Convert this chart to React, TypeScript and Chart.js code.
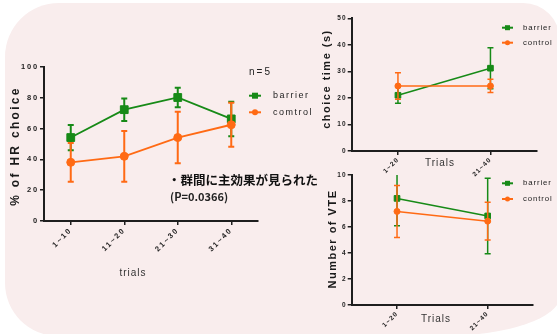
import React, { useEffect, useRef } from 'react';
import { Chart, registerables } from 'chart.js';

Chart.register(...registerables);

const GREEN = '#178a17';
const ORANGE = '#ff6a14';
const AXIS = '#1e1e1e';
const SANS = "'Liberation Sans', Arial, sans-serif";

// ---- data: main chart (% of HR choice)
const mainCategories = ['1~10', '11~20', '21~30', '31~40'];
const mainBarrier = [54.2, 72.3, 80.2, 66.3];
const mainBarrierErr = [8.2, 7.3, 6.4, 11.2];
const mainControl = [38.1, 42.0, 54.2, 62.5];
const mainControlErr = [12.6, 16.5, 16.7, 14.3];
const mainYMax = 100;
const mainYStep = 20;

// ---- data: choice time (s)
const timeCategories = ['1~20', '21~40'];
const timeBarrier = [21.0, 31.2];
const timeBarrierErr = [3.0, 7.7];
const timeControl = [24.5, 24.5];
const timeControlErr = [5.0, 2.5];
const timeYMax = 50;
const timeYStep = 10;

// ---- data: number of VTE
const vteCategories = ['1~20', '21~40'];
const vteBarrier = [8.2, 6.85];
const vteBarrierErr = [2.1, 2.9];
const vteControl = [7.2, 6.45];
const vteControlErr = [2.0, 1.45];
const vteYMax = 10;
const vteYStep = 2;

type TextSpec = { text: string; x: number; y: number; size: number; spacing: number; bold?: boolean; rotate?: boolean; color?: string; align?: CanvasTextAlign };
type Series = { label: string; values: number[]; errors: number[]; color: string; style: 'rect' | 'circle'; order: number };
type Spec = {
  x: number; y: number; w: number; h: number;
  area: { left: number; top: number; right: number; bottom: number };
  labels: string[];
  series: Series[];
  yMax: number; yStep: number;
  tickSize: number; tickSpacing: number;
  texts: TextSpec[];
  legend: { x0: number; x1: number; tx: number; ys: number[]; size: number; spacing: number; marker: number; lw: number };
  rectR: number; circleR: number; lineWidth: number; errWidth: number; capHalf: number;
};

function drawText(ctx: CanvasRenderingContext2D, t: TextSpec) {
  ctx.save();
  (ctx as any).letterSpacing = t.spacing + 'px';
  ctx.font = `${t.bold ? 'bold ' : ''}${t.size}px ${SANS}`;
  ctx.fillStyle = t.color || '#1a1a1a';
  ctx.textAlign = t.align || 'center';
  ctx.textBaseline = 'middle';
  ctx.translate(t.x, t.y);
  if (t.rotate) ctx.rotate(-Math.PI / 2);
  ctx.fillText(t.text, 0, 0);
  ctx.restore();
}

function drawMarker(ctx: CanvasRenderingContext2D, style: string, x: number, y: number, size: number, color: string) {
  ctx.fillStyle = color;
  if (style === 'rect') {
    ctx.fillRect(x - size / 2, y - size / 2, size, size);
  } else {
    ctx.beginPath();
    ctx.arc(x, y, size / 2, 0, Math.PI * 2);
    ctx.fill();
  }
}

function buildChart(canvas: HTMLCanvasElement, spec: Spec) {
  const { area, w, h } = spec;
  const tickFont = { family: SANS, size: spec.tickSize, weight: 'bold' as const };
  const errorBars = {
    id: 'errorBars',
    beforeDatasetDraw(chart: any, args: any) {
      const s = spec.series[args.index];
      const yS = chart.scales.y;
      const ctx: CanvasRenderingContext2D = chart.ctx;
      const a = chart.chartArea;
      ctx.save();
      ctx.beginPath();
      ctx.rect(a.left - 10, a.top, a.right - a.left + 20, a.bottom - a.top);
      ctx.clip();
      ctx.strokeStyle = s.color;
      ctx.lineWidth = spec.errWidth;
      args.meta.data.forEach((pt: any, i: number) => {
        const x = pt.x;
        const hi = yS.getPixelForValue(s.values[i] + s.errors[i]);
        const lo = yS.getPixelForValue(s.values[i] - s.errors[i]);
        ctx.beginPath();
        ctx.moveTo(x, hi); ctx.lineTo(x, lo);
        ctx.moveTo(x - spec.capHalf, hi); ctx.lineTo(x + spec.capHalf, hi);
        ctx.moveTo(x - spec.capHalf, lo); ctx.lineTo(x + spec.capHalf, lo);
        ctx.stroke();
      });
      ctx.restore();
    },
  };
  const decor = {
    id: 'decor',
    beforeDraw(chart: any) {
      (chart.ctx as any).letterSpacing = spec.tickSpacing + 'px';
    },
    afterDraw(chart: any) {
      const ctx: CanvasRenderingContext2D = chart.ctx;
      spec.texts.forEach((t) => drawText(ctx, t));
      const lg = spec.legend;
      spec.series.forEach((s, i) => {
        const y = lg.ys[i];
        ctx.save();
        ctx.strokeStyle = s.color;
        ctx.lineWidth = lg.lw;
        ctx.beginPath();
        ctx.moveTo(lg.x0, y); ctx.lineTo(lg.x1, y);
        ctx.stroke();
        drawMarker(ctx, s.style, (lg.x0 + lg.x1) / 2, y, lg.marker, s.color);
        ctx.restore();
        drawText(ctx, { text: s.label, x: lg.tx, y, size: lg.size, spacing: lg.spacing, align: 'left', color: '#222' });
      });
    },
  };
  return new Chart(canvas, {
    type: 'line',
    data: {
      labels: spec.labels,
      datasets: spec.series.map((s) => ({
        label: s.label,
        data: s.values,
        borderColor: s.color,
        backgroundColor: s.color,
        pointBackgroundColor: s.color,
        pointBorderColor: s.color,
        pointBorderWidth: 1,
        pointStyle: s.style,
        pointRadius: s.style === 'rect' ? spec.rectR : spec.circleR,
        borderWidth: spec.lineWidth,
        tension: 0,
        order: s.order,
      })),
    },
    options: {
      responsive: false,
      animation: false,
      devicePixelRatio: 1,
      events: [],
      layout: { padding: { left: 0, top: area.top, right: w - area.right, bottom: 0 } },
      plugins: { legend: { display: false }, tooltip: { enabled: false }, title: { display: false } },
      scales: {
        x: {
          type: 'category',
          offset: true,
          grid: { display: true, drawOnChartArea: false, drawTicks: true, tickLength: 4, color: AXIS, lineWidth: 1.5 },
          border: { display: true, color: AXIS, width: 2 },
          ticks: { font: tickFont, color: AXIS, minRotation: 45, maxRotation: 45, padding: 1, autoSkip: false },
          afterFit: (s: any) => { s.height = h - area.bottom; },
        },
        y: {
          min: 0,
          max: spec.yMax,
          grid: { display: true, drawOnChartArea: false, drawTicks: true, tickLength: 4, color: AXIS, lineWidth: 1.5 },
          border: { display: true, color: AXIS, width: 2 },
          ticks: { stepSize: spec.yStep, font: tickFont, color: AXIS, padding: 1 },
          afterFit: (s: any) => { s.width = area.left; },
        },
      },
    } as any,
    plugins: [errorBars, decor],
  });
}

const mainSpec: Spec = {
  x: 0, y: 0, w: 335, h: 300,
  area: { left: 44, top: 67, right: 258, bottom: 221 },
  labels: mainCategories,
  series: [
    { label: 'barrier', values: mainBarrier, errors: mainBarrierErr, color: GREEN, style: 'rect', order: 1 },
    { label: 'comtrol', values: mainControl, errors: mainControlErr, color: ORANGE, style: 'circle', order: 0 },
  ],
  yMax: mainYMax, yStep: mainYStep,
  tickSize: 7.5, tickSpacing: 1.8,
  texts: [
    { text: '% of HR choice', x: 16, y: 146, size: 12, spacing: 2.3, bold: true, rotate: true },
    { text: 'trials', x: 133, y: 273, size: 10, spacing: 1, color: '#333' },
    { text: 'n=5', x: 249, y: 72, size: 10, spacing: 2, align: 'left', color: '#222' },
  ],
  legend: { x0: 249, x1: 261, tx: 273, ys: [95.7, 112.3], size: 9, spacing: 1.5, marker: 6, lw: 2 },
  rectR: 5.5, circleR: 4, lineWidth: 1.8, errWidth: 2, capHalf: 3,
};

const timeSpec: Spec = {
  x: 300, y: 0, w: 257, h: 190,
  area: { left: 51.7, top: 18.3, right: 236.7, bottom: 151 },
  labels: timeCategories,
  series: [
    { label: 'barrier', values: timeBarrier, errors: timeBarrierErr, color: GREEN, style: 'rect', order: 1 },
    { label: 'control', values: timeControl, errors: timeControlErr, color: ORANGE, style: 'circle', order: 0 },
  ],
  yMax: timeYMax, yStep: timeYStep,
  tickSize: 6.5, tickSpacing: 1.1,
  texts: [
    { text: 'choice time (s)', x: 27, y: 79, size: 11, spacing: 1.5, bold: true, rotate: true },
    { text: 'Trials', x: 140, y: 163, size: 10, spacing: 1, color: '#333' },
  ],
  legend: { x0: 202, x1: 213, tx: 223, ys: [27.7, 42.7], size: 7.8, spacing: 0.9, marker: 5, lw: 2 },
  rectR: 4, circleR: 3, lineWidth: 1.5, errWidth: 1.5, capHalf: 3,
};

const vteSpec: Spec = {
  x: 300, y: 158, w: 257, h: 176,
  area: { left: 51.7, top: 17, right: 233, bottom: 147 },
  labels: vteCategories,
  series: [
    { label: 'barrier', values: vteBarrier, errors: vteBarrierErr, color: GREEN, style: 'rect', order: 1 },
    { label: 'control', values: vteControl, errors: vteControlErr, color: ORANGE, style: 'circle', order: 0 },
  ],
  yMax: vteYMax, yStep: vteYStep,
  tickSize: 6.5, tickSpacing: 1.1,
  texts: [
    { text: 'Number of VTE', x: 33, y: 81, size: 11, spacing: 1.5, bold: true, rotate: true },
    { text: 'Trials', x: 136, y: 161, size: 10, spacing: 1, color: '#333' },
  ],
  legend: { x0: 202, x1: 213, tx: 223, ys: [25.3, 41], size: 7.8, spacing: 0.9, marker: 5, lw: 2 },
  rectR: 4, circleR: 3, lineWidth: 1.5, errWidth: 1.5, capHalf: 3,
};

function ChartCanvas({ spec }: { spec: Spec }) {
  const ref = useRef<HTMLCanvasElement>(null);
  useEffect(() => {
    if (!ref.current) return;
    const c = buildChart(ref.current, spec);
    return () => c.destroy();
  }, [spec]);
  return (
    <canvas
      ref={ref}
      width={spec.w}
      height={spec.h}
      style={{ position: 'absolute', left: spec.x, top: spec.y, width: spec.w, height: spec.h }}
    />
  );
}

export default function App() {
  return (
    <div style={{ position: 'fixed', left: 0, top: 0, width: 557, height: 334, overflow: 'hidden', background: '#ffffff' }}>
      <div
        style={{
          position: 'absolute', left: 5, top: 3, width: 555, height: 333,
          background: '#f9eded',
          borderRadius: '54px 37px 118px 53px / 54px 37px 40px 53px',
        }}
      />
      <ChartCanvas spec={mainSpec} />
      <ChartCanvas spec={timeSpec} />
      <ChartCanvas spec={vteSpec} />
      <div style={{ position: 'absolute', left: 168, top: 172, fontFamily: "'Noto Sans CJK JP', sans-serif", fontWeight: 700, fontSize: 12.5, lineHeight: '15px', color: '#111', whiteSpace: 'nowrap' }}>
        ・群間に主効果が見られた
      </div>
      <div style={{ position: 'absolute', left: 170, top: 189, fontFamily: "'Noto Sans CJK JP', sans-serif", fontWeight: 700, fontSize: 11, lineHeight: '14px', color: '#222', whiteSpace: 'nowrap' }}>
        (P=0.0366)
      </div>
    </div>
  );
}
